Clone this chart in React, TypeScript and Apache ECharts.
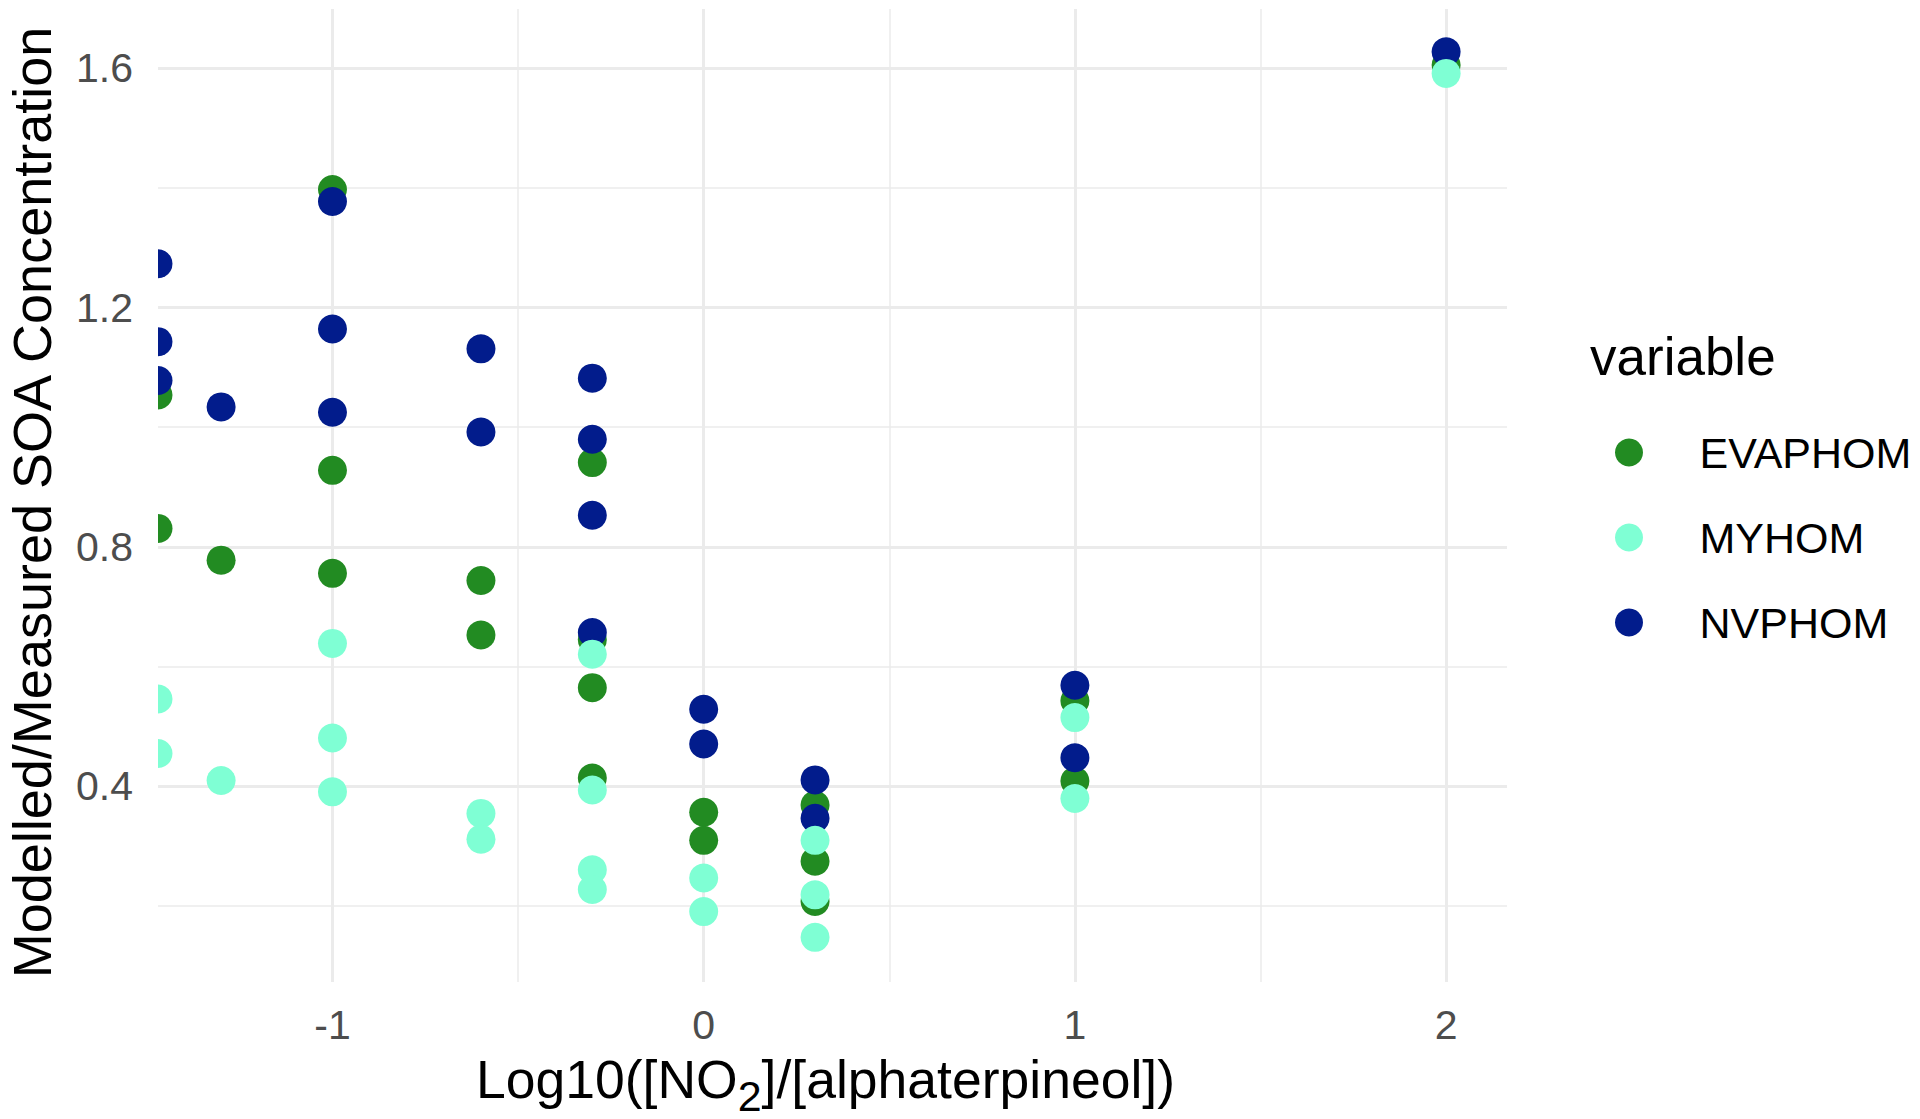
import React, { useEffect, useRef } from "react";
import * as echarts from "echarts";

// ---- data ----
const seriesNames = ["EVAPHOM", "MYHOM", "NVPHOM"];
const seriesColors = ["#228B22", "#7FFFD4", "#021C8C"];
const seriesZ = [2, 4, 3];

const evaphom: [number, number][] = [
  [-1.47, 1.054], [-1.47, 0.831], [-1.3, 0.778],
  [-1, 1.397], [-1, 0.928], [-1, 0.756],
  [-0.6, 0.744], [-0.6, 0.653],
  [-0.3, 0.941], [-0.3, 0.645], [-0.3, 0.565], [-0.3, 0.414],
  [0, 0.357], [0, 0.31],
  [0.3, 0.369], [0.3, 0.275], [0.3, 0.208],
  [1, 0.543], [1, 0.409],
  [2, 1.605],
];

const myhom: [number, number][] = [
  [-1.47, 0.546], [-1.47, 0.455], [-1.3, 0.41],
  [-1, 0.639], [-1, 0.481], [-1, 0.391],
  [-0.6, 0.355], [-0.6, 0.312],
  [-0.3, 0.621], [-0.3, 0.394], [-0.3, 0.261], [-0.3, 0.228],
  [0, 0.247], [0, 0.191],
  [0.3, 0.31], [0.3, 0.219], [0.3, 0.148],
  [1, 0.515], [1, 0.38],
  [2, 1.591],
];

const nvphom: [number, number][] = [
  [-1.47, 1.273], [-1.47, 1.143], [-1.47, 1.078], [-1.3, 1.034],
  [-1, 1.377], [-1, 1.164], [-1, 1.025],
  [-0.6, 1.131], [-0.6, 0.992],
  [-0.3, 1.082], [-0.3, 0.98], [-0.3, 0.853], [-0.3, 0.657],
  [0, 0.529], [0, 0.471],
  [0.3, 0.411], [0.3, 0.347],
  [1, 0.569], [1, 0.448],
  [2, 1.627],
];

const seriesData = [evaphom, myhom, nvphom];

const xTickValues = [-1, 0, 1, 2];
const xMinorValues = [-0.5, 0.5, 1.5];
const yTickValues = [0.4, 0.8, 1.2, 1.6];
const yMinorValues = [0.2, 0.6, 1.0, 1.4];

const xTitleMain1 = "Log10([NO";
const xTitleSub = "2";
const xTitleMain2 = "]/[alphaterpineol])";
const yTitle = "Modelled/Measured SOA Concentration";
const legendTitle = "variable";

export default function App() {
  const ref = useRef<HTMLDivElement>(null);

  useEffect(() => {
    if (!ref.current) return;
    const chart = echarts.init(ref.current, undefined, { renderer: "svg" });
    const font = "'Liberation Sans', Arial, Helvetica, sans-serif";
    const gridColor = "#EBEBEB";

    const gridLines = [
      ...yTickValues.map((v) => ({ yAxis: v, lineStyle: { width: 3, color: gridColor, type: "solid" } })),
      ...yMinorValues.map((v) => ({ yAxis: v, lineStyle: { width: 1.5, color: gridColor, type: "solid" } })),
      ...xTickValues.map((v) => ({ xAxis: v, lineStyle: { width: 3, color: gridColor, type: "solid" } })),
      ...xMinorValues.map((v) => ({ xAxis: v, lineStyle: { width: 1.5, color: gridColor, type: "solid" } })),
    ];

    const option: any = {
      animation: false,
      backgroundColor: "#ffffff",
      textStyle: { fontFamily: font },
      title: {
        text: legendTitle,
        left: 1585,
        top: 325,
        textStyle: { fontFamily: font, fontSize: 53, fontWeight: "normal", color: "#000000" },
      },
      legend: {
        data: seriesNames,
        orient: "vertical",
        left: 1610,
        top: 426,
        icon: "circle",
        itemWidth: 131,
        itemHeight: 28,
        itemGap: 42,
        selectedMode: false,
        textStyle: { fontFamily: font, fontSize: 43, color: "#000000" },
      },
      grid: {
        left: 158,
        right: 413,
        top: 9,
        bottom: 137,
        containLabel: false,
        outerBoundsMode: "none",
      },
      xAxis: {
        type: "value",
        min: -1.47,
        max: 2.164,
        splitLine: { show: false },
        axisLine: { show: false },
        axisTick: { show: false },
        axisLabel: {
          customValues: xTickValues,
          fontFamily: font,
          fontSize: 41,
          lineHeight: 41,
          color: "#4D4D4D",
          margin: 22,
        },
        name: `{a|${xTitleMain1}}{s|${xTitleSub}}{a|${xTitleMain2}}`,
        nameLocation: "middle",
        nameGap: 70,
        nameTextStyle: {
          fontFamily: font,
          fontSize: 53.5,
          color: "#000000",
          padding: [0, 14, 0, 0],
          rich: {
            a: { fontFamily: font, fontSize: 53.5, color: "#000000", verticalAlign: "top" },
            s: { fontFamily: font, fontSize: 43, color: "#000000", verticalAlign: "top", padding: [22, 0, 0, 0] },
          },
        },
      },
      yAxis: {
        type: "value",
        min: 0.0734,
        max: 1.6986,
        splitLine: { show: false },
        axisLine: { show: false },
        axisTick: { show: false },
        axisLabel: {
          customValues: yTickValues,
          formatter: (v: number) => v.toFixed(1),
          fontFamily: font,
          fontSize: 41,
          color: "#4D4D4D",
          margin: 25,
        },
        name: yTitle,
        nameLocation: "middle",
        nameGap: 99,
        nameTextStyle: { fontFamily: font, fontSize: 54, color: "#000000", padding: [0, 14, 0, 0] },
      },
      graphic: [
        {
          type: "rect",
          shape: { x: 138, y: 0, width: 20, height: 1000 },
          style: { fill: "#ffffff" },
          z: 100,
          silent: true,
        },
      ],
      series: [
        {
          type: "scatter",
          name: "gridlines",
          data: [],
          silent: true,
          z: 1,
          markLine: {
            silent: true,
            z: 1,
            animation: false,
            symbol: ["none", "none"],
            label: { show: false },
            emphasis: { disabled: true },
            data: gridLines,
          },
        },
        ...seriesNames.map((name, i) => ({
          type: "scatter",
          name,
          data: seriesData[i],
          symbol: "circle",
          symbolSize: 29,
          z: seriesZ[i],
          itemStyle: { color: seriesColors[i], opacity: 1 },
          emphasis: { disabled: true },
        })),
      ],
    };

    chart.setOption(option);
    return () => chart.dispose();
  }, []);

  return (
    <div
      ref={ref}
      style={{ position: "fixed", left: 0, top: 0, width: "1920px", height: "1119px" }}
    />
  );
}
